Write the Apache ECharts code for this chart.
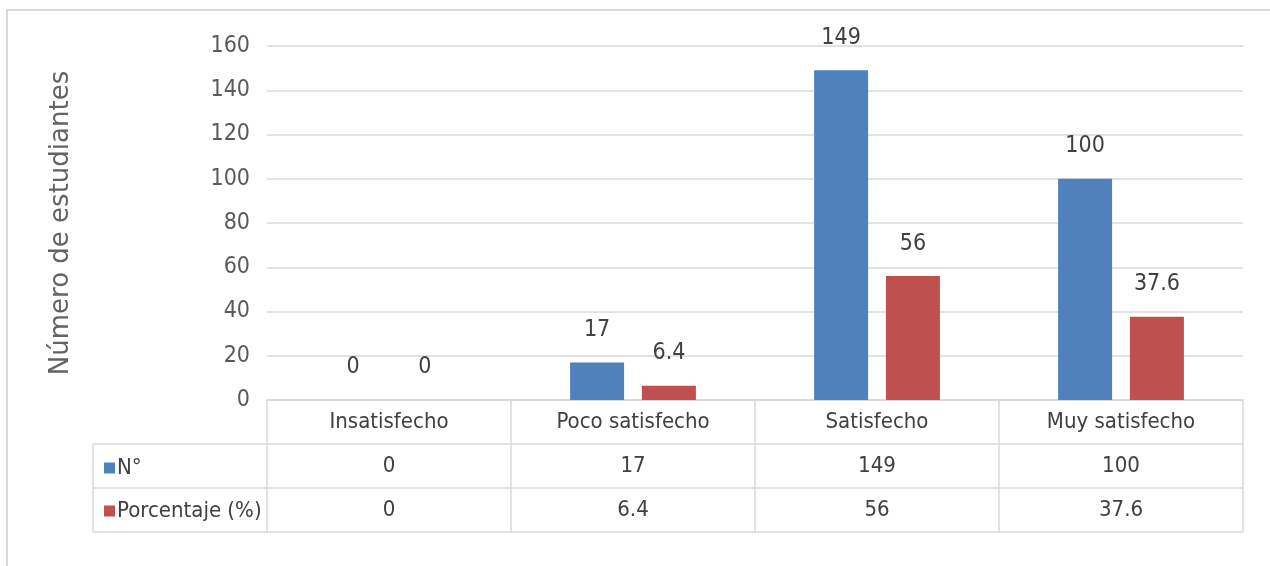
<!DOCTYPE html>
<html><head><meta charset="utf-8">
<script src="https://cdn.jsdelivr.net/npm/echarts@6/dist/echarts.min.js"></script>
<style>html,body{margin:0;padding:0;background:#fff}#c{width:1270px;height:566px}</style>
</head><body><div id="c"></div>
<script>
const categories = ['Insatisfecho', 'Poco satisfecho', 'Satisfecho', 'Muy satisfecho'];
const nValues = [0, 17, 149, 100];
const pctValues = [0, 6.4, 56, 37.6];
const seriesNames = ['N°', 'Porcentaje (%)'];
const yTicks = {min: 0, max: 160, interval: 20};
const yName = 'Número de estudiantes';

const FONT = "'Liberation Sans Narrow','DejaVu Sans Condensed',sans-serif";
const GRID = '#d9d9d9';
const chart = echarts.init(document.getElementById('c'));
const L = 267, R = 1243, T = 46, B = 400, ROW = 44, TL = 93;
chart.setOption({
  animation: false,
  grid: {left: L, right: 1270 - R, top: T, bottom: 566 - B},
  legend: {
    data: seriesNames, orient: 'vertical', left: 99, top: 452,
    icon: 'rect', itemWidth: 11, itemHeight: 11, itemGap: 21, selectedMode: false,
    textStyle: {fontFamily: FONT, fontSize: 22, color: '#404040', lineHeight: 20, padding: [0,0,0,-3]}
  },
  xAxis: {
    type: 'category', data: categories,
    axisLine: {lineStyle: {color: GRID, width: 1.5}},
    axisTick: {show: true, length: ROW * 3, lineStyle: {color: GRID, width: 1.5}},
    axisLabel: {
      interval: 0, margin: 0,
      formatter: (v, i) => `{c|${v}}\n{v|${nValues[i]}}\n{v|${pctValues[i]}}`,
      rich: {
        c: {fontFamily: FONT, fontSize: 22, color: '#404040', lineHeight: ROW},
        v: {fontFamily: FONT, fontSize: 22, color: '#404040', lineHeight: ROW}
      }
    }
  },
  yAxis: {
    type: 'value', min: yTicks.min, max: yTicks.max, interval: yTicks.interval,
    name: yName, nameLocation: 'middle', nameGap: 193, nameRotate: 90,
    nameTextStyle: {fontFamily: "'DejaVu Sans',sans-serif", fontSize: 26, color: '#636363'},
    axisLine: {show: false}, axisTick: {show: false},
    axisLabel: {fontFamily: FONT, fontSize: 23, color: '#595959', margin: 17},
    splitLine: {lineStyle: {color: GRID, width: 1.5}}
  },
  series: [
    {name: seriesNames[0], type: 'bar', data: nValues, barWidth: 54, barGap: '33%',
     itemStyle: {color: '#4f81bd'},
     label: {show: true, position: 'top', distance: 21, fontFamily: FONT, fontSize: 23, color: '#404040'}},
    {name: seriesNames[1], type: 'bar', data: pctValues, barWidth: 54,
     itemStyle: {color: '#c0504d'},
     label: {show: true, position: 'top', distance: 21, fontFamily: FONT, fontSize: 23, color: '#404040'}}
  ],
  graphic: [
    {type: 'rect', shape: {x: 7, y: 10, width: 1300, height: 600}, style: {fill: 'none', stroke: GRID, lineWidth: 2}, silent: true},
    {type: 'line', shape: {x1: TL, y1: B + ROW, x2: R, y2: B + ROW}, style: {stroke: GRID, lineWidth: 1.5}},
    {type: 'line', shape: {x1: TL, y1: B + ROW * 2, x2: R, y2: B + ROW * 2}, style: {stroke: GRID, lineWidth: 1.5}},
    {type: 'line', shape: {x1: TL, y1: B + ROW * 3, x2: R, y2: B + ROW * 3}, style: {stroke: GRID, lineWidth: 1.5}},
    {type: 'line', shape: {x1: TL, y1: B + ROW, x2: TL, y2: B + ROW * 3}, style: {stroke: GRID, lineWidth: 1.5}}
  ]
});
</script></body></html>
